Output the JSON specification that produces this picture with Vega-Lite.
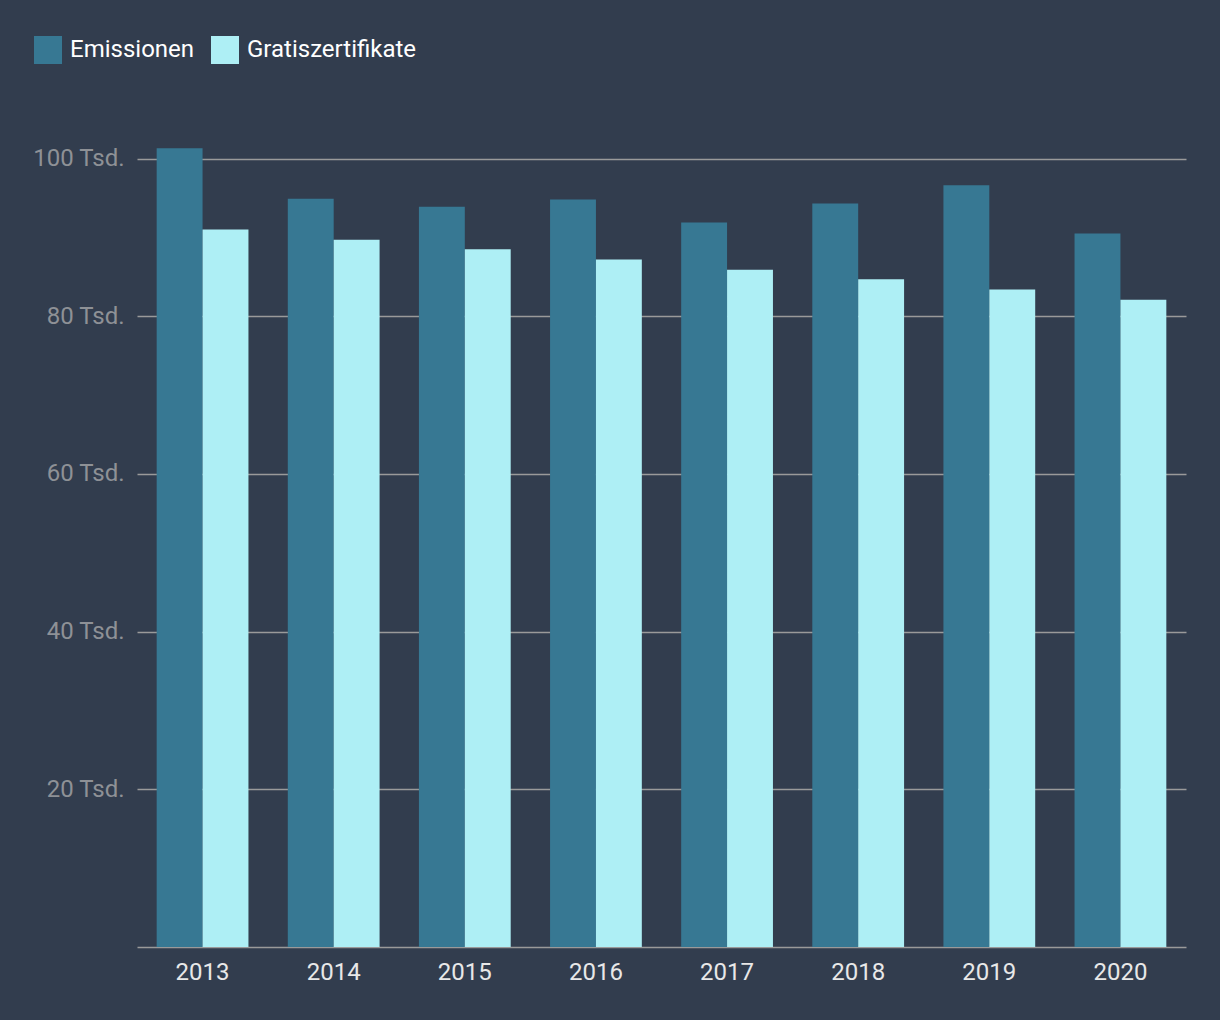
{
  "$schema": "https://vega.github.io/schema/vega-lite/v6.json",
  "width": 1049,
  "height": 820,
  "autosize": {"type": "none"},
  "padding": {"left": 137, "top": 127, "right": 34, "bottom": 73},
  "background": "#323d4e",
  "config": {
    "font": "Roboto",
    "view": {"stroke": null}
  },
  "data": {
    "values": [
      {"Jahr": "2013", "Serie": "Emissionen", "Wert": 101300},
      {"Jahr": "2013", "Serie": "Gratiszertifikate", "Wert": 91000},
      {"Jahr": "2014", "Serie": "Emissionen", "Wert": 94900},
      {"Jahr": "2014", "Serie": "Gratiszertifikate", "Wert": 89700},
      {"Jahr": "2015", "Serie": "Emissionen", "Wert": 93900},
      {"Jahr": "2015", "Serie": "Gratiszertifikate", "Wert": 88500},
      {"Jahr": "2016", "Serie": "Emissionen", "Wert": 94800},
      {"Jahr": "2016", "Serie": "Gratiszertifikate", "Wert": 87200},
      {"Jahr": "2017", "Serie": "Emissionen", "Wert": 91900},
      {"Jahr": "2017", "Serie": "Gratiszertifikate", "Wert": 85900},
      {"Jahr": "2018", "Serie": "Emissionen", "Wert": 94300},
      {"Jahr": "2018", "Serie": "Gratiszertifikate", "Wert": 84700},
      {"Jahr": "2019", "Serie": "Emissionen", "Wert": 96600},
      {"Jahr": "2019", "Serie": "Gratiszertifikate", "Wert": 83400},
      {"Jahr": "2020", "Serie": "Emissionen", "Wert": 90500},
      {"Jahr": "2020", "Serie": "Gratiszertifikate", "Wert": 82100}
    ]
  },
  "mark": {"type": "bar"},
  "encoding": {
    "x": {
      "field": "Jahr",
      "type": "nominal",
      "scale": {"paddingInner": 0.3, "paddingOuter": 0.15},
      "axis": {
        "title": null,
        "labelAngle": 0,
        "labelColor": "#e8e8e8",
        "labelFontSize": 24,
        "labelPadding": 13,
        "ticks": false,
        "domainColor": "#9a9a9a",
        "domainWidth": 1.5,
        "grid": false
      }
    },
    "xOffset": {"field": "Serie", "type": "nominal"},
    "y": {
      "field": "Wert",
      "type": "quantitative",
      "scale": {"domain": [0, 104000], "nice": false},
      "axis": {
        "title": null,
        "values": [20000, 40000, 60000, 80000, 100000],
        "labelExpr": "datum.value / 1000 + ' Tsd.'",
        "labelColor": "#8e9196",
        "labelFontSize": 24,
        "labelPadding": 13,
        "ticks": false,
        "domain": false,
        "gridColor": "#9a9a9a",
        "gridWidth": 1.5
      }
    },
    "color": {
      "field": "Serie",
      "type": "nominal",
      "scale": {"domain": ["Emissionen", "Gratiszertifikate"], "range": ["#377893", "#aeeff5"]},
      "legend": {
        "title": null,
        "orient": "none",
        "legendX": -103,
        "legendY": -91,
        "direction": "horizontal",
        "symbolType": "square",
        "symbolSize": 784,
        "symbolStrokeWidth": 0,
        "symbolOpacity": 1,
        "labelColor": "#ffffff",
        "labelFontSize": 24,
        "labelLimit": 400,
        "labelOffset": 8,
        "columnPadding": 16
      }
    }
  }
}
